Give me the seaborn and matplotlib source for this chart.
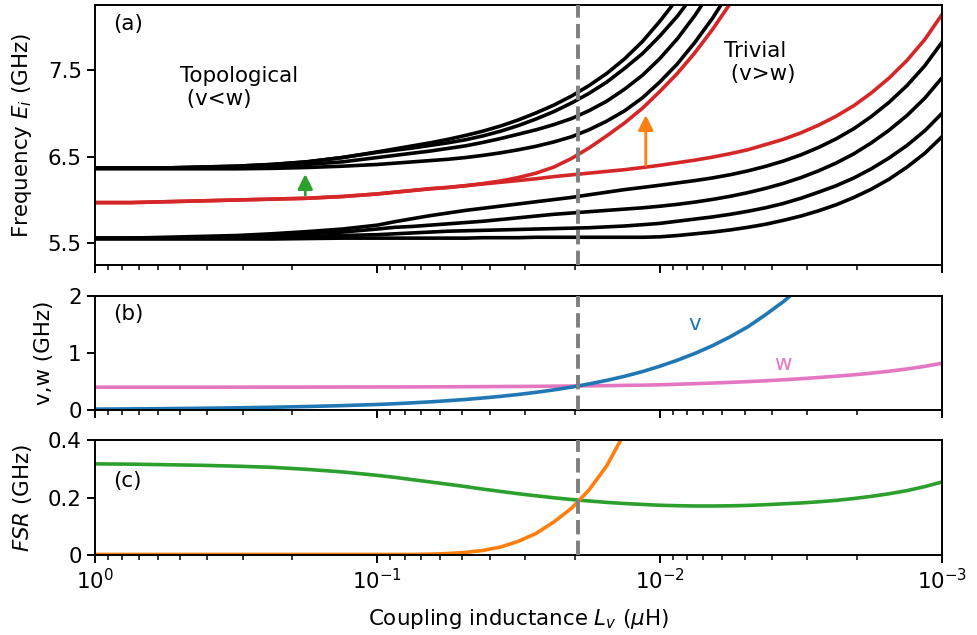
import numpy as np
import pandas as pd
import seaborn as sns
import matplotlib.pyplot as plt

nan = np.nan

# coupling inductance L_v (uH): 1/8 decade steps down to 0.1, then 1/16 decade
L_uH = [1, 0.75, 0.562, 0.422, 0.316, 0.237, 0.178, 0.133, 0.1,
        0.0866, 0.075, 0.0649, 0.0562, 0.0487, 0.0422, 0.0365, 0.0316,
        0.0274, 0.0237, 0.0205, 0.0178, 0.0154, 0.0133, 0.0115, 0.01,
        0.00866, 0.0075, 0.00649, 0.00562, 0.00487, 0.00422, 0.00365, 0.00316,
        0.00274, 0.00237, 0.00205, 0.00178, 0.00154, 0.00133, 0.00115, 0.001]

# (a) eigenfrequencies E_i (GHz), values above the frame left out
upper_1 = [6.37, 6.37, 6.37, 6.38, 6.39, 6.41, 6.44, 6.49, 6.555,
           6.59, 6.625, 6.66, 6.70, 6.745, 6.795, 6.855, 6.925, 7.005, 7.095,
           7.20, 7.32, 7.46, 7.63, 7.83, 8.06, 8.32, 8.62, 8.96,
           nan, nan, nan, nan, nan, nan, nan, nan, nan, nan, nan, nan, nan]
upper_2 = [6.37, 6.37, 6.37, 6.38, 6.39, 6.41, 6.44, 6.49, 6.55,
           6.575, 6.60, 6.63, 6.66, 6.695, 6.74, 6.795, 6.86, 6.935, 7.02,
           7.12, 7.23, 7.36, 7.52, 7.69, 7.89, 8.12, 8.39, 8.70, 9.05,
           nan, nan, nan, nan, nan, nan, nan, nan, nan, nan, nan, nan]
upper_3 = [6.37, 6.37, 6.37, 6.37, 6.38, 6.39, 6.41, 6.44, 6.49,
           6.515, 6.54, 6.565, 6.595, 6.625, 6.665, 6.71, 6.76, 6.81, 6.87,
           6.94, 7.03, 7.14, 7.28, 7.44, 7.63, 7.86, 8.13, 8.44, 8.80,
           nan, nan, nan, nan, nan, nan, nan, nan, nan, nan, nan, nan]
upper_4 = [6.36, 6.36, 6.36, 6.36, 6.36, 6.365, 6.375, 6.39, 6.41,
           6.425, 6.44, 6.455, 6.47, 6.49, 6.515, 6.545, 6.58, 6.62, 6.67,
           6.73, 6.81, 6.91, 7.03, 7.18, 7.36, 7.57, 7.82, 8.10, 8.42, 8.78,
           nan, nan, nan, nan, nan, nan, nan, nan, nan, nan, nan]
lower_1 = [5.56, 5.56, 5.57, 5.58, 5.59, 5.61, 5.635, 5.665, 5.71,
           5.75, 5.785, 5.82, 5.85, 5.88, 5.905, 5.93, 5.955, 5.98, 6.005,
           6.03, 6.06, 6.09, 6.12, 6.145, 6.17, 6.197, 6.224, 6.255, 6.292,
           6.336, 6.388, 6.449, 6.521, 6.606, 6.706, 6.824, 6.963, 7.127,
           7.321, 7.55, 7.82]
lower_2 = [5.56, 5.56, 5.56, 5.57, 5.58, 5.59, 5.61, 5.63, 5.665,
           5.685, 5.695, 5.71, 5.725, 5.74, 5.755, 5.775, 5.795, 5.815, 5.835,
           5.85, 5.865, 5.88, 5.895, 5.91, 5.928, 5.95, 5.976, 6.007, 6.043,
           6.085, 6.134, 6.191, 6.258, 6.336, 6.427, 6.534, 6.659, 6.805,
           6.976, 7.176, 7.41]
lower_3 = [5.56, 5.56, 5.56, 5.56, 5.57, 5.57, 5.58, 5.59, 5.60,
           5.61, 5.62, 5.63, 5.64, 5.645, 5.65, 5.655, 5.66, 5.665, 5.67,
           5.675, 5.68, 5.69, 5.70, 5.715, 5.73, 5.755, 5.78, 5.805, 5.835,
           5.87, 5.91, 5.96, 6.02, 6.09, 6.165, 6.255, 6.36, 6.485,
           6.63, 6.80, 7.00]
lower_4 = [5.55, 5.55, 5.55, 5.55, 5.55, 5.55, 5.555, 5.56, 5.56,
           5.56, 5.56, 5.56, 5.56, 5.56, 5.565, 5.565, 5.565, 5.57, 5.57,
           5.57, 5.57, 5.57, 5.57, 5.57, 5.575, 5.59, 5.61, 5.63, 5.655,
           5.685, 5.72, 5.765, 5.815, 5.875, 5.945, 6.03, 6.125, 6.24,
           6.38, 6.54, 6.73]
edge_up = [5.97, 5.97, 5.98, 5.99, 6.00, 6.01, 6.02, 6.04, 6.07,
           6.09, 6.11, 6.13, 6.145, 6.165, 6.19, 6.22, 6.26, 6.31, 6.38,
           6.48, 6.60, 6.74, 6.89, 7.06, 7.25, 7.46, 7.70, 7.97, 8.27, 8.60,
           nan, nan, nan, nan, nan, nan, nan, nan, nan, nan, nan]
edge_low = [5.97, 5.97, 5.98, 5.99, 6.00, 6.01, 6.02, 6.04, 6.07,
            6.09, 6.11, 6.13, 6.145, 6.165, 6.185, 6.205, 6.225, 6.245, 6.27,
            6.29, 6.31, 6.33, 6.35, 6.375, 6.40, 6.43, 6.46, 6.495, 6.535,
            6.58, 6.639, 6.70, 6.775, 6.863, 6.967, 7.09, 7.235, 7.407,
            7.611, 7.853, 8.14]

# (b) intra / inter cell coupling (GHz)
v_GHz = [0.015, 0.019, 0.024, 0.030, 0.038, 0.048, 0.061, 0.077, 0.097,
         0.11, 0.126, 0.143, 0.163, 0.185, 0.211, 0.24, 0.273, 0.31, 0.353,
         0.402, 0.457, 0.52, 0.592, 0.674, 0.767, 0.873, 0.993, 1.13, 1.286,
         1.46, 1.67, 1.90, 2.16, 2.46,
         nan, nan, nan, nan, nan, nan, nan]
w_GHz = [0.40, 0.40, 0.40, 0.40, 0.401, 0.402, 0.402, 0.403, 0.404,
         0.404, 0.405, 0.406, 0.407, 0.409, 0.410, 0.412, 0.413, 0.415, 0.418,
         0.420, 0.424, 0.427, 0.432, 0.436, 0.442, 0.452, 0.462, 0.473, 0.485,
         0.498, 0.513, 0.53, 0.549, 0.57, 0.593, 0.618, 0.646, 0.68,
         0.72, 0.766, 0.82]

# (c) free spectral range (GHz)
fsr_green = [0.317, 0.316, 0.314, 0.312, 0.309, 0.305, 0.298, 0.289, 0.277,
             0.270, 0.262, 0.254, 0.246, 0.238, 0.229, 0.221, 0.213, 0.206,
             0.199, 0.193, 0.188, 0.183, 0.179, 0.176, 0.173, 0.1715, 0.1705,
             0.1705, 0.171, 0.1725, 0.175, 0.178, 0.181, 0.185, 0.190, 0.1965,
             0.204, 0.213, 0.224, 0.238, 0.254]
fsr_orange = [0.002, 0.002, 0.002, 0.002, 0.002, 0.002, 0.002, 0.002, 0.002,
              0.002, 0.002, 0.003, 0.005, 0.009, 0.016, 0.028, 0.048, 0.075,
              0.115, 0.163, 0.226, 0.31, 0.425, 0.57, 0.76, 1.0,
              nan, nan, nan, nan, nan, nan, nan, nan, nan, nan, nan, nan,
              nan, nan, nan]

L_transition = 0.0195

sns.set_style("ticks")
plt.rcParams["font.family"] = ["DejaVu Sans"]
plt.rcParams["font.size"] = 15.4
plt.rcParams["axes.linewidth"] = 1.4
plt.rcParams["xtick.major.width"] = 1.4
plt.rcParams["ytick.major.width"] = 1.4
plt.rcParams["xtick.minor.width"] = 1.1
plt.rcParams["xtick.major.size"] = 6
plt.rcParams["ytick.major.size"] = 6
plt.rcParams["xtick.minor.size"] = 3.5
plt.rcParams["axes.edgecolor"] = "black"
plt.rcParams["text.color"] = "black"
plt.rcParams["xtick.color"] = "black"
plt.rcParams["ytick.color"] = "black"
plt.rcParams["axes.labelcolor"] = "black"
plt.rcParams["axes.labelpad"] = 10

W, H = 977, 635
fig = plt.figure(figsize=(W / 100, H / 100), dpi=100)
ax_a = fig.add_axes([95 / W, 1 - 265 / H, 847 / W, 260 / H])
ax_b = fig.add_axes([95 / W, 1 - 410 / H, 847 / W, 114 / H])
ax_c = fig.add_axes([95 / W, 1 - 555 / H, 847 / W, 115 / H])

lw = 2.6
for ax in (ax_a, ax_b, ax_c):
    ax.set_xscale("log")

for band in (upper_1, upper_2, upper_3, upper_4,
             lower_1, lower_2, lower_3, lower_4):
    sns.lineplot(x=L_uH, y=band, ax=ax_a, color="black", linewidth=lw)
for edge in (edge_up, edge_low):
    sns.lineplot(x=L_uH, y=edge, ax=ax_a, color="tab:red", linewidth=lw)

sns.lineplot(x=L_uH, y=w_GHz, ax=ax_b, color="tab:pink", linewidth=lw)
sns.lineplot(x=L_uH, y=v_GHz, ax=ax_b, color="tab:blue", linewidth=lw)

sns.lineplot(x=L_uH, y=fsr_green, ax=ax_c, color="tab:green", linewidth=lw)
sns.lineplot(x=L_uH, y=fsr_orange, ax=ax_c, color="tab:orange", linewidth=lw)

for ax in (ax_a, ax_b, ax_c):
    ax.axvline(L_transition, color="tab:gray", linestyle="--", linewidth=2.8,
               zorder=5)
    ax.set_xlim(1, 1e-3)
    ax.set_xlabel("")
    ax.tick_params(axis="x", which="both", top=False)
    for s in ax.spines.values():
        s.set_visible(True)
ax_a.tick_params(axis="x", labelbottom=False)
ax_b.tick_params(axis="x", labelbottom=False)

ax_a.set_ylim(5.25, 8.25)
ax_a.set_yticks([5.5, 6.5, 7.5])
ax_a.set_ylabel("Frequency $E_i$ (GHz)")
ax_b.set_ylim(0, 2)
ax_b.set_yticks([0, 1, 2], ["0", "1", "2"])
ax_b.set_ylabel("v,w (GHz)")
ax_c.set_ylim(0, 0.4)
ax_c.set_yticks([0, 0.2, 0.4], ["0", "0.2", "0.4"])
ax_c.set_ylabel("$FSR$ (GHz)")
ax_c.set_xlabel("Coupling inductance $L_v$ ($\\mu$H)", labelpad=10)

ax_a.text(0.021, 0.965, "(a)", transform=ax_a.transAxes, va="top")
ax_b.text(0.021, 0.93, "(b)", transform=ax_b.transAxes, va="top")
ax_c.text(0.021, 0.64, "(c)", transform=ax_c.transAxes, va="center")

ax_a.text(0.5, 7.55, "Topological\n (v<w)", va="top", ha="left")
ax_a.text(0.0059, 7.84, "Trivial\n (v>w)", va="top", ha="left")
ax_b.text(0.0075, 1.51, "v", color="tab:blue", ha="center", va="center")
ax_b.text(0.00366, 0.81, "w", color="tab:pink", ha="center", va="center")

ax_a.annotate("", xy=(0.18, 6.30), xytext=(0.18, 6.055),
              arrowprops=dict(arrowstyle="-|>,head_length=0.5,head_width=0.25",
                              color="tab:green", lw=2, mutation_scale=18,
                              shrinkA=0, shrinkB=0))
ax_a.annotate("", xy=(0.0112, 6.98), xytext=(0.0112, 6.40),
              arrowprops=dict(arrowstyle="-|>,head_length=0.5,head_width=0.25",
                              color="tab:orange", lw=2, mutation_scale=18,
                              shrinkA=0, shrinkB=0))

fig.savefig("out.png", dpi=100)
